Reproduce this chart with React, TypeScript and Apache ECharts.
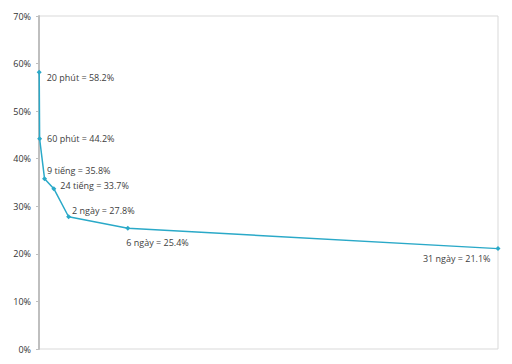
import React, { useEffect, useRef } from "react";
import * as echarts from "echarts";

const days = [20 / 1440, 60 / 1440, 9 / 24, 1, 2, 6, 31];
const retention = [58.2, 44.2, 35.8, 33.7, 27.8, 25.4, 21.1];
const names = ["20 phút", "60 phút", "9 tiếng", "24 tiếng", "2 ngày", "6 ngày", "31 ngày"];
const yTicks = [0, 10, 20, 30, 40, 50, 60, 70];

const labelOffsets: [number, number][] = [
  [0, 5],
  [0, 0],
  [-5, -8],
  [-1, -3],
  [-4, -6],
  [-9, 14],
  [0, 10],
];
const labelPositions = ["right", "right", "right", "right", "right", "right", "left"];

export default function App() {
  const ref = useRef<HTMLDivElement>(null);
  useEffect(() => {
    if (!ref.current) return;
    const chart = echarts.init(ref.current, undefined, { renderer: "svg" });
    const data = days.map((d, i) => ({
      value: [d, retention[i]],
      label: {
        show: true,
        position: labelPositions[i],
        offset: labelOffsets[i],
        formatter: `${names[i]} = ${retention[i].toFixed(1)}%`,
      },
    }));
    chart.setOption({
      animation: false,
      backgroundColor: "#ffffff",
      grid: {
        left: 39,
        right: 14,
        top: 16,
        bottom: 15,
        show: true,
        borderColor: "#d9d9d9",
        borderWidth: 1,
        backgroundColor: "transparent",
      },
      xAxis: {
        type: "value",
        min: 0,
        max: 31,
        show: false,
      },
      yAxis: {
        type: "value",
        min: yTicks[0],
        max: yTicks[yTicks.length - 1],
        interval: 10,
        axisLine: { show: true, lineStyle: { color: "#bfbfbf", width: 2 } },
        axisTick: { show: true, length: 3, lineStyle: { color: "#bfbfbf" } },
        splitLine: { show: false },
        axisLabel: {
          formatter: (v: number) => `${v}%`,
          color: "#333333",
          fontFamily: "Open Sans",
          fontSize: 9,
          margin: 8,
        },
      },
      series: [
        {
          type: "line",
          data,
          symbol: "diamond",
          symbolSize: 5,
          lineStyle: { color: "#2aa9c8", width: 1.5 },
          itemStyle: { color: "#2aa9c8" },
          label: {
            color: "#404040",
            fontFamily: "Open Sans",
            fontSize: 9,
          },
        },
      ],
    });
    return () => chart.dispose();
  }, []);
  return <div ref={ref} style={{ width: 512, height: 364, position: "absolute", left: 0, top: 0 }} />;
}
